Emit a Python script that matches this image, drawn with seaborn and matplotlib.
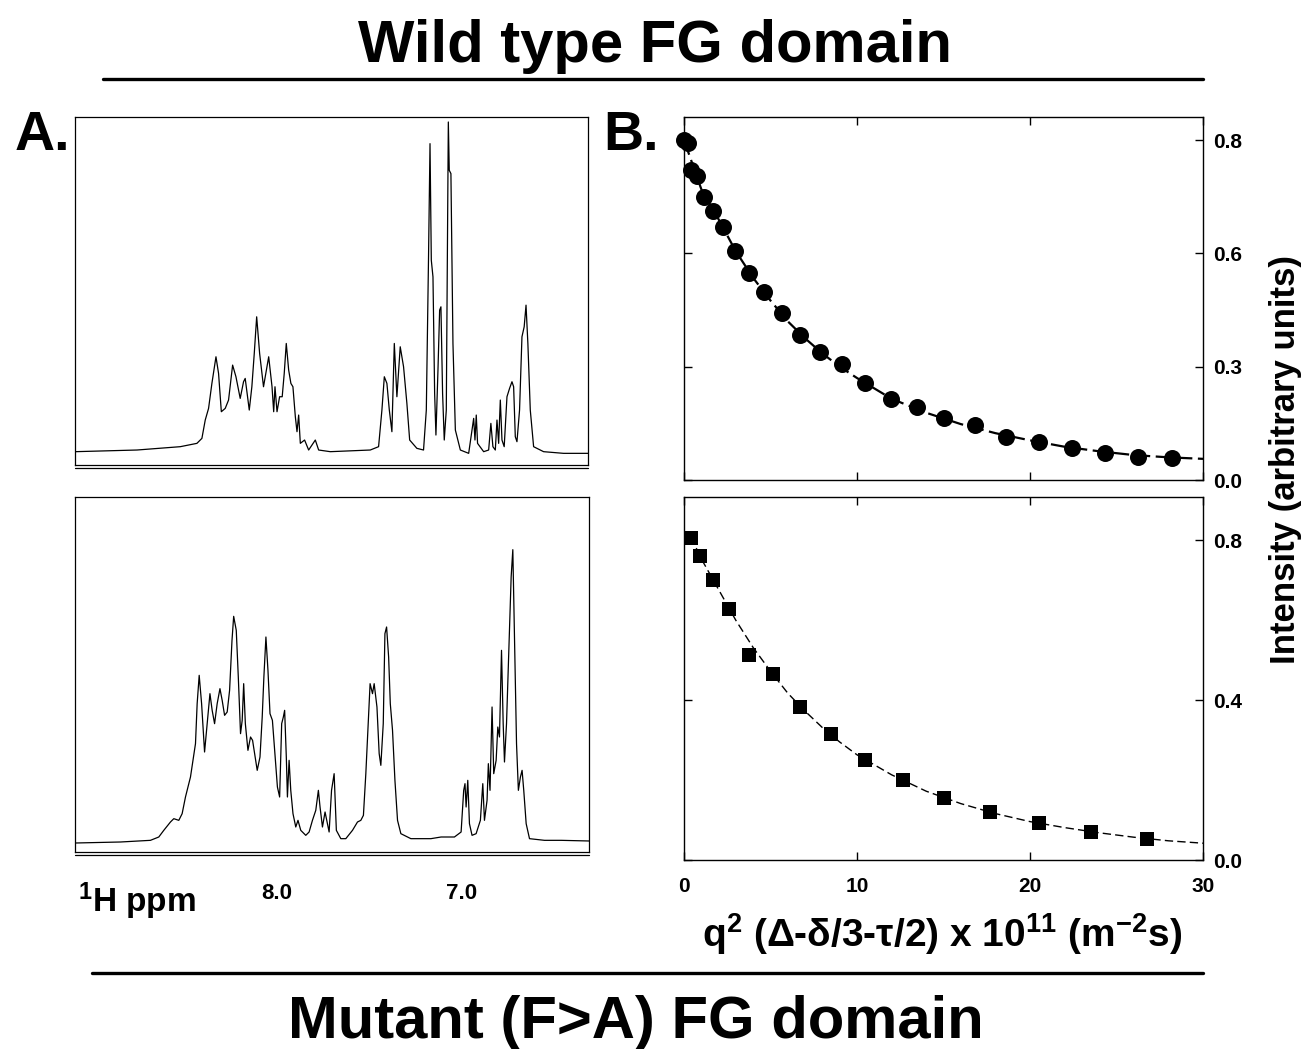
import matplotlib
matplotlib.use("Agg")
import matplotlib.pyplot as plt
import seaborn as sns
from matplotlib.lines import Line2D

# 1H spectra (ppm, relative intensity)
wt_ppm = [9.086, 8.753, 8.519, 8.429, 8.402, 8.384, 8.366, 8.348, 8.326, 8.312, 8.297, 8.276, 8.258,
          8.236, 8.218, 8.195, 8.177, 8.168, 8.146, 8.132, 8.119, 8.106, 8.090, 8.069, 8.041, 8.023,
          8.014, 8.007, 7.996, 7.982, 7.968, 7.957, 7.946, 7.933, 7.921, 7.910, 7.897, 7.888, 7.879,
          7.870, 7.847, 7.825, 7.789, 7.771, 7.708, 7.492, 7.447, 7.429, 7.416, 7.402, 7.389, 7.375,
          7.362, 7.348, 7.330, 7.312, 7.294, 7.279, 7.240, 7.204, 7.189, 7.177, 7.169, 7.162, 7.153,
          7.144, 7.137, 7.126, 7.117, 7.110, 7.101, 7.092, 7.081, 7.076, 7.070, 7.065, 7.056, 7.045,
          7.032, 7.005, 6.960, 6.942, 6.933, 6.926, 6.919, 6.912, 6.879, 6.852, 6.840, 6.829, 6.816,
          6.807, 6.798, 6.789, 6.780, 6.768, 6.753, 6.739, 6.726, 6.717, 6.708, 6.699, 6.685, 6.672,
          6.660, 6.650, 6.640, 6.627, 6.609, 6.555, 6.447, 6.312]
wt_int = [0.000, 0.005, 0.015, 0.025, 0.040, 0.095, 0.130, 0.205, 0.285, 0.235, 0.120, 0.130, 0.155,
          0.260, 0.225, 0.160, 0.210, 0.220, 0.125, 0.195, 0.295, 0.405, 0.295, 0.195, 0.285, 0.195,
          0.120, 0.195, 0.120, 0.165, 0.165, 0.235, 0.325, 0.245, 0.205, 0.195, 0.105, 0.060, 0.110,
          0.025, 0.035, 0.005, 0.035, 0.005, 0.000, 0.005, 0.015, 0.125, 0.225, 0.205, 0.125, 0.060,
          0.325, 0.165, 0.315, 0.255, 0.145, 0.035, 0.010, 0.005, 0.125, 0.585, 0.925, 0.575, 0.525,
          0.175, 0.050, 0.245, 0.425, 0.435, 0.175, 0.035, 0.125, 0.525, 0.990, 0.845, 0.835, 0.325,
          0.065, 0.005, -0.005, 0.065, 0.100, 0.035, 0.110, 0.025, 0.000, 0.005, 0.085, 0.015, 0.005,
          0.095, 0.025, 0.155, 0.035, 0.015, 0.165, 0.190, 0.210, 0.195, 0.045, 0.030, 0.125, 0.345,
          0.375, 0.440, 0.325, 0.125, 0.015, 0.000, -0.005, -0.005]

mut_ppm = [9.086, 8.843, 8.681, 8.636, 8.609, 8.573, 8.555, 8.528, 8.510, 8.492, 8.465, 8.438, 8.429,
           8.418, 8.405, 8.389, 8.375, 8.360, 8.348, 8.335, 8.321, 8.306, 8.294, 8.281, 8.267, 8.254,
           8.241, 8.232, 8.218, 8.207, 8.195, 8.186, 8.178, 8.169, 8.155, 8.141, 8.130, 8.119, 8.105,
           8.090, 8.078, 8.069, 8.058, 8.047, 8.036, 8.023, 8.011, 7.996, 7.984, 7.973, 7.964, 7.957,
           7.948, 7.942, 7.933, 7.924, 7.912, 7.897, 7.885, 7.870, 7.843, 7.825, 7.807, 7.789, 7.775,
           7.766, 7.753, 7.739, 7.726, 7.717, 7.704, 7.690, 7.678, 7.654, 7.627, 7.591, 7.564, 7.546,
           7.532, 7.519, 7.506, 7.496, 7.483, 7.474, 7.459, 7.447, 7.438, 7.425, 7.416, 7.407, 7.396,
           7.387, 7.375, 7.362, 7.348, 7.330, 7.276, 7.168, 7.113, 7.041, 7.005, 6.991, 6.984, 6.978,
           6.969, 6.960, 6.946, 6.924, 6.901, 6.888, 6.879, 6.865, 6.858, 6.849, 6.838, 6.829, 6.816,
           6.807, 6.798, 6.787, 6.778, 6.771, 6.760, 6.744, 6.735, 6.726, 6.717, 6.706, 6.696, 6.685,
           6.676, 6.667, 6.654, 6.636, 6.555, 6.465, 6.312]
mut_int = [-0.003, 0.000, 0.005, 0.015, 0.035, 0.060, 0.070, 0.065, 0.085, 0.135, 0.195, 0.295, 0.415,
           0.500, 0.415, 0.270, 0.355, 0.445, 0.395, 0.355, 0.415, 0.460, 0.425, 0.380, 0.390, 0.455,
           0.605, 0.677, 0.635, 0.495, 0.325, 0.365, 0.475, 0.355, 0.275, 0.315, 0.305, 0.265, 0.215,
           0.255, 0.375, 0.495, 0.615, 0.515, 0.385, 0.365, 0.275, 0.165, 0.135, 0.355, 0.375, 0.395,
           0.255, 0.135, 0.245, 0.155, 0.085, 0.045, 0.065, 0.035, 0.020, 0.030, 0.065, 0.095, 0.155,
           0.105, 0.045, 0.090, 0.055, 0.030, 0.155, 0.205, 0.035, 0.010, 0.010, 0.035, 0.060, 0.065,
           0.080, 0.205, 0.355, 0.475, 0.445, 0.475, 0.405, 0.265, 0.230, 0.355, 0.625, 0.645, 0.555,
           0.415, 0.335, 0.185, 0.065, 0.025, 0.010, 0.010, 0.015, 0.015, 0.030, 0.155, 0.175, 0.105,
           0.185, 0.055, 0.020, 0.025, 0.065, 0.175, 0.065, 0.125, 0.235, 0.155, 0.405, 0.205, 0.245,
           0.345, 0.315, 0.575, 0.355, 0.240, 0.355, 0.635, 0.795, 0.877, 0.615, 0.295, 0.155, 0.195,
           0.215, 0.155, 0.055, 0.010, 0.005, 0.005, 0.003]

# diffusion decays
wt_q = [0.0, 0.21, 0.41, 0.74, 1.14, 1.65, 2.28, 2.96, 3.78, 4.63, 5.64, 6.72, 7.86, 9.16, 10.46,
        11.95, 13.44, 15.05, 16.81, 18.61, 20.53, 22.43, 24.31, 26.26, 28.18]
wt_I = [0.900, 0.891, 0.821, 0.805, 0.748, 0.713, 0.669, 0.606, 0.549, 0.498, 0.441, 0.384, 0.338,
        0.306, 0.258, 0.214, 0.194, 0.163, 0.146, 0.115, 0.100, 0.084, 0.071, 0.062, 0.057]
wt_fit_q = [0, 1, 2, 3, 4, 5, 6, 7, 8, 9, 10, 12, 14, 16, 18, 20, 22, 24, 26, 28, 30]
wt_fit_I = [0.900, 0.770, 0.690, 0.605, 0.535, 0.475, 0.420, 0.375, 0.335, 0.300, 0.270, 0.215,
            0.178, 0.148, 0.124, 0.105, 0.088, 0.076, 0.066, 0.060, 0.056]

mut_q = [0.41, 0.93, 1.67, 2.60, 3.78, 5.13, 6.68, 8.48, 10.44, 12.67, 15.05, 17.68, 20.53, 23.53, 26.79]
mut_I = [0.805, 0.761, 0.701, 0.627, 0.512, 0.464, 0.383, 0.314, 0.251, 0.200, 0.154, 0.121, 0.092,
         0.071, 0.053]
mut_fit_q = [0.4, 1, 2, 3, 4, 5, 6, 7, 8, 9, 10, 12, 14, 16, 18, 20, 22, 24, 26, 28, 30]
mut_fit_I = [0.808, 0.753, 0.676, 0.599, 0.531, 0.472, 0.417, 0.372, 0.331, 0.295, 0.263, 0.213,
             0.172, 0.141, 0.116, 0.096, 0.081, 0.068, 0.057, 0.048, 0.042]

ppm_ticks = [8.0, 7.0]
ppm_tick_labels = ["8.0", "7.0"]
q_ticks = [0, 10, 20, 30]
top_ticks = [0.0, 0.3, 0.6, 0.9]
top_tick_labels = ["0.0", "0.3", "0.6", "0.8"]
bot_ticks = [0.0, 0.4, 0.8]
bot_tick_labels = ["0.0", "0.4", "0.8"]

sns.set_style("white")
plt.rcParams["font.family"] = ["Liberation Sans", "DejaVu Sans"]
plt.rcParams["font.weight"] = "bold"
plt.rcParams["text.color"] = "black"
plt.rcParams["axes.labelcolor"] = "black"
plt.rcParams["xtick.color"] = "black"
plt.rcParams["ytick.color"] = "black"
plt.rcParams["mathtext.fontset"] = "custom"
plt.rcParams["mathtext.rm"] = "Liberation Sans:bold"
plt.rcParams["mathtext.it"] = "Liberation Sans:bold"
plt.rcParams["mathtext.bf"] = "Liberation Sans:bold"

W, H = 1313, 1049
fig = plt.figure(figsize=(W / 100, H / 100), dpi=100)


def box(x0, y0, x1, y1):
    # pixel box -> figure fraction rect
    return [x0 / W, 1 - y1 / H, (x1 - x0) / W, (y1 - y0) / H]


# ---- spectra (panel A)
ax_s1 = fig.add_axes(box(75, 117, 588, 465))
ax_s2 = fig.add_axes(box(75, 497, 589, 852))
for ax, ppm, inten, ylim in [(ax_s1, wt_ppm, wt_int, (-0.04, 1.005)),
                             (ax_s2, mut_ppm, mut_int, (-0.03, 1.035))]:
    sns.lineplot(x=ppm, y=inten, ax=ax, color="black", lw=0.9, sort=False, estimator=None)
    ax.set_xlim(9.088, 6.315)
    ax.set_ylim(*ylim)
    ax.set_yticks([])
    for sp in ax.spines.values():
        sp.set_color("black")
        sp.set_linewidth(0.9)
    ax.plot([0, 1], [-0.009, -0.009], transform=ax.transAxes, color="black", lw=0.9, clip_on=False)
ax_s1.set_xticks([])
ax_s2.set_xticks(ppm_ticks)
ax_s2.set_xticklabels(ppm_tick_labels, fontsize=16, fontweight="bold")
ax_s2.tick_params(axis="x", length=0, pad=22)

# ---- diffusion decays (panel B)
ax_d1 = fig.add_axes(box(684, 117, 1203, 480))
ax_d2 = fig.add_axes(box(684, 497, 1203, 860))

sns.lineplot(x=wt_fit_q, y=wt_fit_I, ax=ax_d1, color="black", lw=1.6,
             linestyle=(0, (7, 2.5)), estimator=None)
sns.scatterplot(x=wt_q, y=wt_I, ax=ax_d1, marker="o", s=150, color="black",
                edgecolor="black", linewidth=0, zorder=3, clip_on=False)
sns.lineplot(x=mut_fit_q, y=mut_fit_I, ax=ax_d2, color="black", lw=1.0,
             linestyle=(0, (6, 3)), estimator=None)
sns.scatterplot(x=mut_q, y=mut_I, ax=ax_d2, marker="s", s=115, color="black",
                edgecolor="black", linewidth=0, zorder=3, clip_on=False)

ax_d1.set_ylim(0, 0.961)
ax_d1.set_yticks(top_ticks)
ax_d1.set_yticklabels(top_tick_labels)
ax_d2.set_ylim(0, 0.9075)
ax_d2.set_yticks(bot_ticks)
ax_d2.set_yticklabels(bot_tick_labels)
for ax in (ax_d1, ax_d2):
    ax.set_xlim(0, 30)
    ax.set_xticks(q_ticks)
    ax.set_xlabel("")
    ax.set_ylabel("")
    ax.tick_params(direction="in", top=True, bottom=True, left=True, right=True,
                   labelleft=False, labelright=True, length=6, width=1, labelsize=15)
    ax.tick_params(axis="y", pad=7)
    ax.tick_params(axis="x", pad=12)
    for lab in ax.get_xticklabels() + ax.get_yticklabels():
        lab.set_fontweight("bold")
    for sp in ax.spines.values():
        sp.set_color("black")
        sp.set_linewidth(1.0)
ax_d1.tick_params(labelbottom=False)

# ---- labels and titles
fig.text(655 / W, 1 - 62 / H, "Wild type FG domain", ha="center", va="baseline",
         fontsize=43, fontweight="bold")
fig.text(636 / W, 1 - 1038 / H, "Mutant (F>A) FG domain", ha="center", va="baseline",
         fontsize=43, fontweight="bold")
fig.add_artist(Line2D([103 / W, 1203 / W], [1 - 79 / H] * 2, color="black", lw=2.4))
fig.add_artist(Line2D([92 / W, 1203 / W], [1 - 973 / H] * 2, color="black", lw=2.4))
fig.text(15 / W, 1 - 150 / H, "A.", ha="left", va="baseline", fontsize=40, fontweight="bold")
fig.text(603 / W, 1 - 150 / H, "B.", ha="left", va="baseline", fontsize=40, fontweight="bold")
fig.text(78 / W, 1 - 912 / H, r"$^{1}$H ppm", ha="left", va="baseline", fontsize=24,
         fontweight="bold")
fig.text(942 / W, 1 - 947 / H, "q$^{2}$ (Δ-δ/3-τ/2) x 10$^{11}$ (m$^{-2}$s)", ha="center",
         va="baseline", fontsize=28, fontweight="bold")
fig.text(1285 / W, 1 - 460 / H, "Intensity (arbitrary units)", ha="center", va="center",
         rotation=90, fontsize=25, fontweight="bold")

fig.savefig("out.png", dpi=100)
